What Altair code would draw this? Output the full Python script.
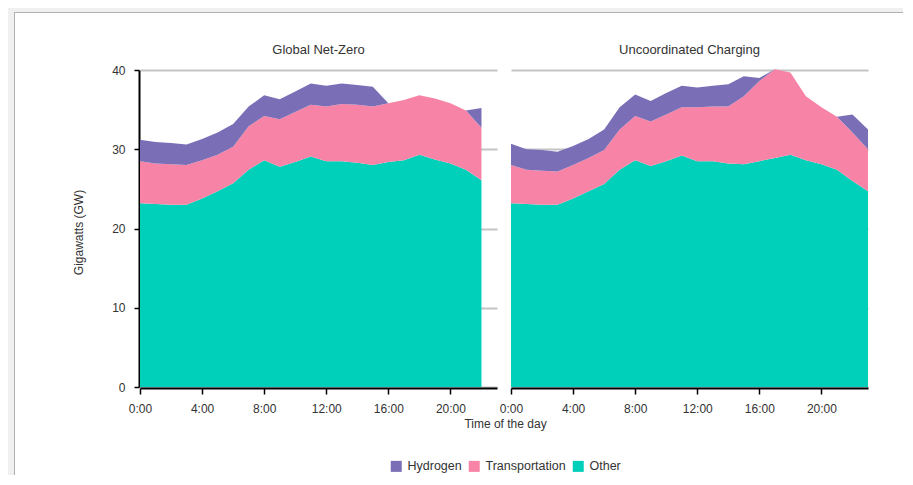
import altair as alt
import pandas as pd

# ---- data (GW) ----
hours_gnz = list(range(23))          # Global Net-Zero: 0:00 .. 22:00
other_gnz = [23.2, 23.1, 23.0, 23.0, 23.8, 24.7, 25.7, 27.4, 28.6, 27.8, 28.4, 29.1,
             28.5, 28.5, 28.3, 28.0, 28.4, 28.6, 29.3, 28.7, 28.2, 27.4, 26.1]
transport_gnz = [5.3, 5.1, 5.1, 5.0, 4.8, 4.6, 4.6, 5.5, 5.6, 6.0, 6.3, 6.5,
                 6.9, 7.2, 7.3, 7.4, 7.4, 7.6, 7.5, 7.7, 7.6, 7.5, 6.6]
hydrogen_gnz = [2.7, 2.7, 2.7, 2.6, 2.7, 2.8, 2.9, 2.5, 2.6, 2.5, 2.6, 2.7,
                2.6, 2.6, 2.5, 2.5, 0.0, 0.0, 0.0, 0.0, 0.0, 0.0, 2.5]

hours_uc = list(range(24))           # Uncoordinated Charging: 0:00 .. 23:00
other_uc = [23.2, 23.1, 23.0, 23.0, 23.8, 24.7, 25.6, 27.4, 28.6, 27.9, 28.5, 29.2,
            28.5, 28.5, 28.2, 28.1, 28.5, 28.9, 29.3, 28.6, 28.1, 27.4, 26.0, 24.7]
transport_uc = [4.8, 4.3, 4.3, 4.2, 4.2, 4.2, 4.3, 5.1, 5.6, 5.6, 5.9, 6.1,
                6.8, 6.9, 7.2, 8.6, 10.1, 11.2, 10.4, 8.1, 7.2, 6.7, 6.1, 5.3]
hydrogen_uc = [2.7, 2.6, 2.6, 2.5, 2.4, 2.4, 2.6, 2.8, 2.7, 2.6, 2.7, 2.7,
               2.5, 2.6, 2.8, 2.5, 0.4, 0.0, 0.0, 0.0, 0.0, 0.0, 2.3, 2.5]

sources = ["Hydrogen", "Transportation", "Other"]
colors = ["#7a6fb6", "#f784a7", "#00cfba"]
x_ticks = [0, 4, 8, 12, 16, 20]
y_ticks = [0, 10, 20, 30, 40]
titles = ["Global Net-Zero", "Uncoordinated Charging"]


def long_table(hours, other, transport, hydrogen):
    rows = []
    for h, o, t, hy in zip(hours, other, transport, hydrogen):
        rows.append({"hour": h, "source": "Other", "value": o, "rank": 0})
        rows.append({"hour": h, "source": "Transportation", "value": t, "rank": 1})
        rows.append({"hour": h, "source": "Hydrogen", "value": hy, "rank": 2})
    return pd.DataFrame(rows)


df_gnz = long_table(hours_gnz, other_gnz, transport_gnz, hydrogen_gnz)
df_uc = long_table(hours_uc, other_uc, transport_uc, hydrogen_uc)

W, H = 357, 317
GRID = "#c4c4c4"
TXT = "#333333"
xscale = alt.Scale(domain=[0, 23], nice=False)
yscale = alt.Scale(domain=[0, 40], nice=False)

# legend position is relative to the left panel's plot origin
legend = alt.Legend(
    orient="none", legendX=250, legendY=390, direction="horizontal", title=None,
    symbolType="square", symbolSize=121, symbolStrokeWidth=0, labelFontSize=12.5,
    labelColor=TXT, labelOffset=5, columnPadding=6, padding=0,
)
color = alt.Color("source:N", scale=alt.Scale(domain=sources, range=colors), legend=legend)


def area_chart(df, left):
    x_axis = alt.Axis(
        values=x_ticks, labelExpr="datum.value + ':00'", grid=False, labelFlush=False,
        domainColor="black", domainWidth=2, tickColor="black", tickWidth=1.5,
        tickSize=6, labelPadding=9, offset=1,
        title="Time of the day" if left else None,
        titleX=365, titleY=35, titleBaseline="middle", titleAlign="center",
    )
    if left:
        y_axis = alt.Axis(
            values=y_ticks, grid=True, gridColor=GRID, gridWidth=2,
            domainColor="black", domainWidth=2, tickColor="black", tickWidth=1.5,
            tickSize=5, labelPadding=9, offset=1, title="Gigawatts (GW)",
            titleX=-61, titleY=162, titleBaseline="middle", titleAlign="center",
        )
    else:
        y_axis = alt.Axis(
            values=y_ticks, grid=True, gridColor=GRID, gridWidth=2,
            domain=False, ticks=False, labels=False, title=None,
        )
    return alt.Chart(df).mark_area(opacity=1).encode(
        x=alt.X("hour:Q", scale=xscale, axis=x_axis),
        y=alt.Y("value:Q", stack="zero", scale=yscale, axis=y_axis),
        color=color,
        order=alt.Order("rank:Q", sort="ascending"),
    )


def panel_title(text):
    d = alt.Data(values=[{"label": text}])
    return alt.Chart(d).mark_text(fontSize=13, color=TXT, baseline="middle", align="center").encode(
        x=alt.value(W / 2), y=alt.value(-20.5), text="label:N",
    )


# decorative page frame (light grey band + thin border), outside the plot area
frame_data = alt.Data(values=[{"k": 1}])
band_top = alt.Chart(frame_data).mark_rect(color="#f0f0f0").encode(
    x=alt.value(-132), x2=alt.value(763), y=alt.value(-62), y2=alt.value(-58))
band_left = alt.Chart(frame_data).mark_rect(color="#f0f0f0").encode(
    x=alt.value(-132), x2=alt.value(-126), y=alt.value(-58), y2=alt.value(405))
border_top = alt.Chart(frame_data).mark_rule(color="#b0b0b6", strokeWidth=1).encode(
    x=alt.value(-126), x2=alt.value(763), y=alt.value(-57.5))
border_left = alt.Chart(frame_data).mark_rule(color="#b0b0b6", strokeWidth=1).encode(
    x=alt.value(-125.5), y=alt.value(-58), y2=alt.value(405))

left = alt.layer(
    band_top, band_left, border_top, border_left,
    area_chart(df_gnz, True), panel_title(titles[0]),
).properties(width=W, height=H)

right = alt.layer(
    area_chart(df_uc, False), panel_title(titles[1]),
).properties(width=W, height=H)

chart = alt.hconcat(left, right, spacing=14, bounds="flush").resolve_scale(
    color="shared"
).properties(
    padding={"left": 0, "top": 0, "right": 0, "bottom": 0},
    background="white",
).configure(font="Liberation Sans").configure_view(stroke=None).configure_axis(
    labelFontSize=12, labelColor=TXT, titleFontSize=12, titleColor=TXT,
    titleFontWeight="normal",
)

chart.save("out.html", embed_options={"renderer": "svg", "actions": False})
